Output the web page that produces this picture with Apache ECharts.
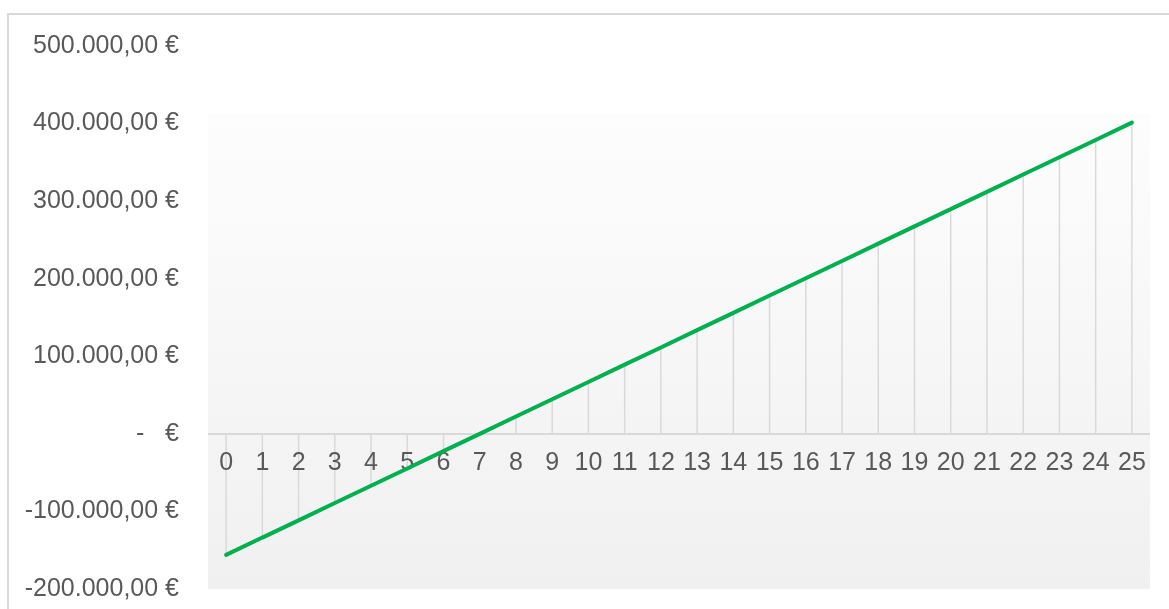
<!DOCTYPE html>
<html>
<head>
<meta charset="utf-8">
<script src="https://cdn.jsdelivr.net/npm/echarts@6/dist/echarts.min.js"></script>
<style>
  html, body { margin: 0; padding: 0; background: #ffffff; overflow: hidden; }
  #frame { position: absolute; left: 7px; top: 13px; width: 1300px; height: 800px;
           border: 2px solid #d9d9d9; box-sizing: border-box; }
  #chart { position: absolute; left: 0; top: 0; width: 1169px; height: 609px; }
</style>
</head>
<body>
<div id="frame"></div>
<div id="chart"></div>
<script>
// Years of the projection (x axis categories)
const years = ['0','1','2','3','4','5','6','7','8','9','10','11','12','13','14','15','16','17','18','19','20','21','22','23','24','25'];

// Cumulative cash position in euro, one value per year
const cumulative = [
  -156000, -133700, -111500, -89200, -66900, -44600, -22300, 0,
  22300, 44600, 66900, 89200, 111400, 133700, 156000, 178300,
  200600, 222900, 245200, 267500, 289700, 312000, 334300, 356600,
  378900, 401200
];

// Value axis range
const yMin = -200000;
const yMax = 500000;
const yStep = 100000;
// Upper edge of the shaded plot area
const plotTop = 412500;

function euro(v) {
  if (v === 0) return '-   €';
  const neg = v < 0;
  const parts = Math.abs(v).toFixed(2).split('.');
  const intPart = parts[0].replace(/\B(?=(\d{3})+(?!\d))/g, '.');
  return (neg ? '-' : '') + intPart + ',' + parts[1] + ' €';
}

const chart = echarts.init(document.getElementById('chart'), null, { renderer: 'canvas' });

chart.setOption({
  animation: false,
  backgroundColor: 'transparent',
  textStyle: { fontFamily: '"Liberation Sans", Arial, sans-serif' },
  grid: { left: 208, right: 19, top: 46, bottom: 20, containLabel: false, outerBoundsMode: 'none' },
  xAxis: {
    type: 'category',
    data: years,
    boundaryGap: true,
    z: 4,
    // axis shifted up onto the zero line (two value steps above the bottom edge)
    offset: -155.5,
    axisLine: { show: false, onZero: false },
    axisTick: { show: false },
    axisLabel: { color: '#595959', fontSize: 25, margin: 17, interval: 0 },
    splitLine: { show: false }
  },
  yAxis: {
    type: 'value',
    min: yMin,
    max: yMax,
    interval: yStep,
    z: 2,
    axisLine: { show: false },
    axisTick: { show: false },
    splitLine: { show: false },
    axisLabel: { color: '#595959', fontSize: 25, margin: 29, formatter: euro }
  },
  series: [
    {
      // shaded plot background
      type: 'line',
      data: [],
      z: 1,
      silent: true,
      markArea: {
        silent: true,
        itemStyle: {
          color: {
            type: 'linear', x: 0, y: 0, x2: 0, y2: 1,
            colorStops: [
              { offset: 0, color: '#fdfdfd' },
              { offset: 1, color: '#f0f0f0' }
            ]
          }
        },
        data: [[{ yAxis: yMin }, { yAxis: plotTop }]]
      }
    },
    {
      // drop lines from each point to the zero axis
      type: 'bar',
      data: cumulative,
      z: 3,
      barWidth: 1.5,
      silent: true,
      itemStyle: { color: '#d9d9d9' },
      markLine: {
        silent: true,
        symbol: 'none',
        label: { show: false },
        lineStyle: { color: '#d9d9d9', width: 2, type: 'solid' },
        data: [{ yAxis: 0 }]
      }
    },
    {
      type: 'line',
      data: cumulative,
      z: 10,
      symbol: 'none',
      lineStyle: { color: '#00b050', width: 4, cap: 'round' }
    }
  ]
});
</script>
</body>
</html>
